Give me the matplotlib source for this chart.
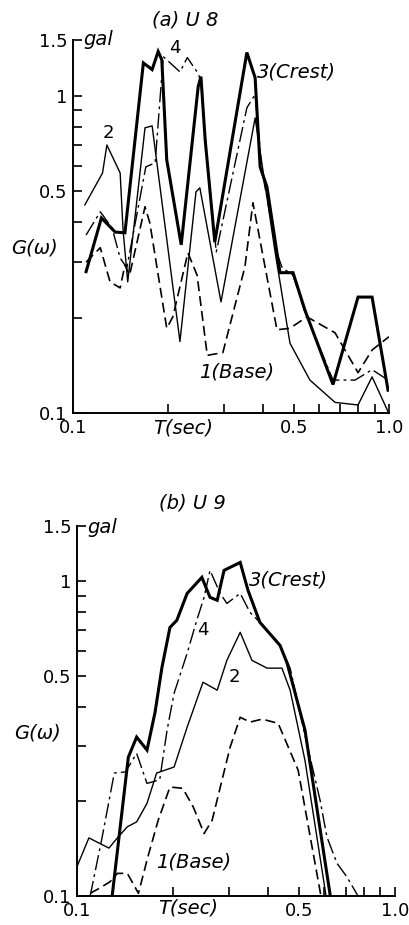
import matplotlib
matplotlib.use("Agg")
import matplotlib.pyplot as plt
from matplotlib.ticker import FixedLocator, FixedFormatter, NullLocator

# ---------------- data: panel (a) U8 ----------------
a_T1 = [0.110, 0.122, 0.131, 0.141, 0.146, 0.151, 0.169, 0.175, 0.198, 0.207, 0.231, 0.247,
        0.266, 0.298, 0.350, 0.371, 0.442, 0.486, 0.550, 0.675, 0.798, 0.884, 1.0]
a_G1 = [0.299, 0.332, 0.259, 0.248, 0.293, 0.272, 0.447, 0.398, 0.185, 0.201, 0.320, 0.272,
        0.152, 0.155, 0.289, 0.460, 0.183, 0.185, 0.201, 0.179, 0.134, 0.158, 0.174]

a_T2 = [0.109, 0.124, 0.128, 0.141, 0.144, 0.149, 0.169, 0.178, 0.218, 0.245, 0.252, 0.294,
        0.377, 0.436, 0.486, 0.562, 0.675, 0.798, 0.884, 0.993]
a_G2 = [0.453, 0.571, 0.700, 0.571, 0.378, 0.259, 0.793, 0.804, 0.168, 0.498, 0.513, 0.224,
        0.852, 0.322, 0.166, 0.127, 0.108, 0.106, 0.130, 0.101]

a_T3 = [0.110, 0.123, 0.136, 0.146, 0.167, 0.178, 0.186, 0.191, 0.198, 0.220, 0.249, 0.254,
        0.262, 0.281, 0.355, 0.377, 0.391, 0.411, 0.442, 0.452, 0.497, 0.542, 0.665, 0.798,
        0.884, 0.993]
a_G3 = [0.279, 0.412, 0.372, 0.370, 1.27, 1.21, 1.38, 1.30, 0.628, 0.339, 1.07, 1.15,
        0.726, 0.346, 1.37, 1.14, 0.597, 0.516, 0.320, 0.277, 0.277, 0.211, 0.123, 0.232,
        0.232, 0.118]

a_T4 = [0.110, 0.122, 0.133, 0.141, 0.148, 0.170, 0.182, 0.193, 0.218, 0.230, 0.247, 0.254,
        0.264, 0.284, 0.355, 0.377, 0.396, 0.442, 0.459, 0.497, 0.542, 0.665, 0.781, 0.884,
        0.993]
a_G4 = [0.364, 0.431, 0.383, 0.308, 0.287, 0.597, 0.615, 1.33, 1.19, 1.32, 1.19, 1.12,
        0.675, 0.322, 0.917, 1.01, 0.584, 0.320, 0.287, 0.272, 0.208, 0.127, 0.127, 0.137,
        0.127]

# ---------------- data: panel (b) U9 ----------------
b_T1 = [0.110, 0.118, 0.127, 0.134, 0.144, 0.156, 0.167, 0.180, 0.196, 0.215, 0.232, 0.251,
        0.266, 0.303, 0.326, 0.350, 0.382, 0.429, 0.496, 0.585]
b_G1 = [0.102, 0.106, 0.111, 0.118, 0.118, 0.102, 0.133, 0.174, 0.222, 0.220, 0.192, 0.158,
        0.174, 0.297, 0.370, 0.357, 0.365, 0.354, 0.251, 0.100]

b_T2 = [0.100, 0.109, 0.126, 0.134, 0.144, 0.154, 0.166, 0.178, 0.202, 0.222, 0.249, 0.276,
        0.296, 0.326, 0.355, 0.396, 0.441, 0.468, 0.521, 0.607]
b_G2 = [0.124, 0.153, 0.142, 0.153, 0.166, 0.172, 0.197, 0.246, 0.257, 0.344, 0.478, 0.451,
        0.561, 0.689, 0.561, 0.530, 0.530, 0.451, 0.270, 0.100]

b_T3 = [0.129, 0.145, 0.154, 0.166, 0.176, 0.185, 0.196, 0.206, 0.222, 0.247, 0.262, 0.276,
        0.290, 0.326, 0.345, 0.376, 0.435, 0.458, 0.521, 0.625]
b_G3 = [0.100, 0.276, 0.320, 0.291, 0.384, 0.533, 0.714, 0.752, 0.916, 1.03, 0.890, 0.871,
        1.084, 1.149, 0.936, 0.741, 0.626, 0.549, 0.337, 0.101]

b_T4 = [0.110, 0.120, 0.131, 0.142, 0.154, 0.166, 0.182, 0.192, 0.202, 0.222, 0.238, 0.251,
        0.262, 0.282, 0.296, 0.326, 0.350, 0.376, 0.435, 0.468, 0.521, 0.581, 0.611, 0.657,
        0.706, 0.765]
b_G4 = [0.100, 0.154, 0.246, 0.248, 0.284, 0.228, 0.234, 0.337, 0.441, 0.591, 0.752, 0.890,
        1.084, 0.916, 0.851, 0.916, 0.797, 0.741, 0.626, 0.530, 0.324, 0.202, 0.154, 0.127,
        0.115, 0.100]

x_ticks = [0.1, 0.2, 0.3, 0.4, 0.5, 0.6, 0.7, 0.8, 0.9, 1.0]
x_tick_labels = ["0.1", "", "", "", "0.5", "", "", "", "", "1.0"]
y_ticks = [0.1, 0.2, 0.3, 0.4, 0.5, 0.6, 0.7, 0.8, 0.9, 1.0, 1.5]
y_tick_labels = ["0.1", "", "", "", "0.5", "", "", "", "", "1", "1.5"]

W, H = 410, 925
fig = plt.figure(figsize=(W / 100, H / 100), dpi=100)
fig.patch.set_facecolor("white")

STY1 = dict(color="black", lw=1.2, linestyle=(0, (6, 3)))
STY2 = dict(color="black", lw=1.0, linestyle="-")
STY3 = dict(color="black", lw=2.2, linestyle="-", solid_joinstyle="miter")
STY4 = dict(color="black", lw=1.0, linestyle=(0, (11, 3, 2, 3)))


def setup(ax):
    ax.set_xscale("log")
    ax.set_yscale("log")
    ax.set_xlim(0.1, 1.0)
    ax.set_ylim(0.1, 1.5)
    for s in ("top", "right"):
        ax.spines[s].set_visible(False)
    for s in ("left", "bottom"):
        ax.spines[s].set_linewidth(1.4)
    ax.xaxis.set_major_locator(FixedLocator(x_ticks))
    ax.xaxis.set_major_formatter(FixedFormatter(x_tick_labels))
    ax.xaxis.set_minor_locator(NullLocator())
    ax.yaxis.set_major_locator(FixedLocator(y_ticks))
    ax.yaxis.set_major_formatter(FixedFormatter(y_tick_labels))
    ax.yaxis.set_minor_locator(NullLocator())
    ax.tick_params(direction="in", length=6.5, width=1.2, labelsize=13, pad=4)
    ax.patch.set_alpha(0)


def ftext(x, y, s, **kw):
    kw.setdefault("va", "center")
    kw.setdefault("ha", "left")
    fig.text(x / W, 1 - y / H, s, **kw)


# panel (a)
ax_a = fig.add_axes([73 / W, (H - 413) / H, 316 / W, 373 / H])
setup(ax_a)
ax_a.plot(a_T1, a_G1, **STY1)
ax_a.plot(a_T2, a_G2, **STY2)
ax_a.plot(a_T4, a_G4, **STY4)
ax_a.plot(a_T3, a_G3, **STY3)

# panel (b)
ax_b = fig.add_axes([77 / W, (H - 896) / H, 318 / W, 370 / H])
setup(ax_b)
ax_b.plot(b_T1, b_G1, **STY1)
ax_b.plot(b_T2, b_G2, **STY2)
ax_b.plot(b_T4, b_G4, **STY4)
ax_b.plot(b_T3, b_G3, **STY3)

it = dict(style="italic", fontsize=14)

# texts (a)
ftext(185, 20, "(a) U 8", ha="center", **it)
ftext(83, 45, "gal", va="baseline", **it)
ftext(108, 133, "2", ha="center", fontsize=13)
ftext(175, 48, "4", ha="center", fontsize=13)
ftext(257, 72, "3(Crest)", **it)
ftext(199, 372, "1(Base)", **it)
ftext(11, 248, "G(ω)", **it)
ftext(183, 428, "T(sec)", ha="center", **it)

# texts (b)
ftext(192, 503, "(b) U 9", ha="center", **it)
ftext(87, 533, "gal", va="baseline", **it)
ftext(249, 580, "3(Crest)", **it)
ftext(203, 630, "4", ha="center", fontsize=13)
ftext(234, 677, "2", ha="center", fontsize=13)
ftext(156, 862, "1(Base)", **it)
ftext(14, 733, "G(ω)", **it)
ftext(188, 908, "T(sec)", ha="center", **it)

fig.savefig("out.png", dpi=100, facecolor="white")
